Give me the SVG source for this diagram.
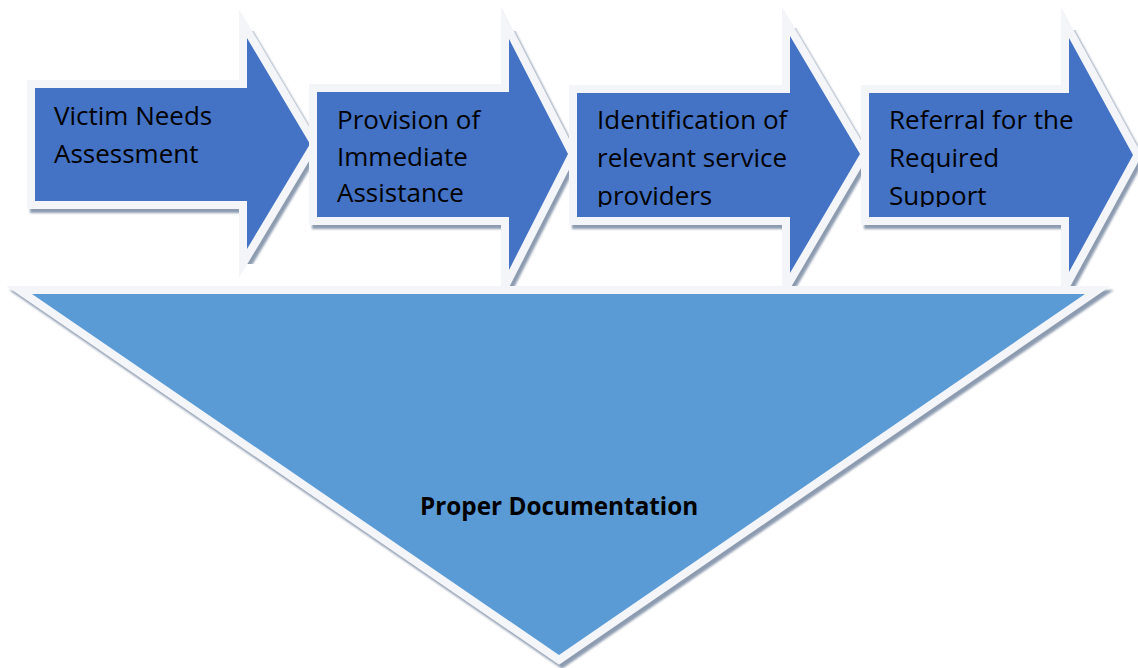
<svg xmlns="http://www.w3.org/2000/svg" width="1138" height="668" viewBox="0 0 1138 668">
  <style>
    .shadow { fill: #8d9bb0; stroke: #8d9bb0; stroke-width: 16; stroke-linejoin: miter; stroke-miterlimit: 20; filter: url(#blur); }
    .border { fill: #f3f5f8; stroke: #f3f5f8; stroke-width: 16; stroke-linejoin: miter; stroke-miterlimit: 20; }
    .arrow { fill: #4472c4; }
    .tri { fill: #5b9bd5; }
    .label { font-family: "Open Sans", "Noto Sans", sans-serif; font-size: 26px; fill: #000000; }
    .bold { font-family: "Open Sans", "Noto Sans", sans-serif; font-size: 24.3px; font-weight: bold; fill: #000000; }
  </style>
  <defs>
    <filter id="blur" x="-5%" y="-5%" width="110%" height="110%">
      <feGaussianBlur stdDeviation="1"/>
    </filter>
    <clipPath id="c1"><rect x="35" y="88" width="250" height="119"/></clipPath>
    <clipPath id="c2"><rect x="317" y="92" width="230" height="115"/></clipPath>
    <clipPath id="c3"><rect x="577" y="93" width="250" height="114"/></clipPath>
    <clipPath id="c4"><rect x="869" y="93" width="240" height="114"/></clipPath>
  </defs>
  <rect x="0" y="0" width="1138" height="668" fill="#ffffff"/>

  <g id="step1">
    <polygon class="shadow" transform="translate(3,4)" points="35,88 247,88 247,38 310,144 247,249 247,201 35,201"/>
    <polygon class="border" points="35,88 247,88 247,38 310,144 247,249 247,201 35,201"/>
    <polygon class="arrow" points="35,88 247,88 247,38 310,144 247,249 247,201 35,201"/>
    <g clip-path="url(#c1)">
      <text class="label" x="54" y="125">Victim Needs</text>
      <text class="label" x="54" y="163">Assessment</text>
    </g>
  </g>

  <g id="step2">
    <polygon class="shadow" transform="translate(3,4)" points="317,92 509,92 509,39 568,154 509,270 509,217 317,217"/>
    <polygon class="border" points="317,92 509,92 509,39 568,154 509,270 509,217 317,217"/>
    <polygon class="arrow" points="317,92 509,92 509,39 568,154 509,270 509,217 317,217"/>
    <g clip-path="url(#c2)">
      <text class="label" x="337" y="129">Provision of</text>
      <text class="label" x="337" y="166">Immediate</text>
      <text class="label" x="337" y="202">Assistance</text>
    </g>
  </g>

  <g id="step3">
    <polygon class="shadow" transform="translate(3,4)" points="577,93 790,93 790,36 860,154 790,273 790,217 577,217"/>
    <polygon class="border" points="577,93 790,93 790,36 860,154 790,273 790,217 577,217"/>
    <polygon class="arrow" points="577,93 790,93 790,36 860,154 790,273 790,217 577,217"/>
    <g clip-path="url(#c3)">
      <text class="label" x="597" y="129">Identification of</text>
      <text class="label" x="597" y="167">relevant service</text>
      <text class="label" x="597" y="205">providers</text>
    </g>
  </g>

  <g id="step4">
    <polygon class="shadow" transform="translate(3,4)" points="869,93 1069,93 1069,38 1133,155 1069,272 1069,217 869,217"/>
    <polygon class="border" points="869,93 1069,93 1069,38 1133,155 1069,272 1069,217 869,217"/>
    <polygon class="arrow" points="869,93 1069,93 1069,38 1133,155 1069,272 1069,217 869,217"/>
    <g clip-path="url(#c4)">
      <text class="label" x="889" y="129">Referral for the</text>
      <text class="label" x="889" y="167">Required</text>
      <text class="label" x="889" y="205">Support</text>
    </g>
  </g>

  <g id="documentation">
    <polygon class="shadow" transform="translate(3,4)" points="32,294 1085,294 559,655"/>
    <polygon class="border" points="32,294 1085,294 559,655"/>
    <polygon class="tri" points="32,294 1085,294 559,655"/>
    <text class="bold" x="420" y="515">Proper Documentation</text>
  </g>

  <g id="connectors"></g>
</svg>
